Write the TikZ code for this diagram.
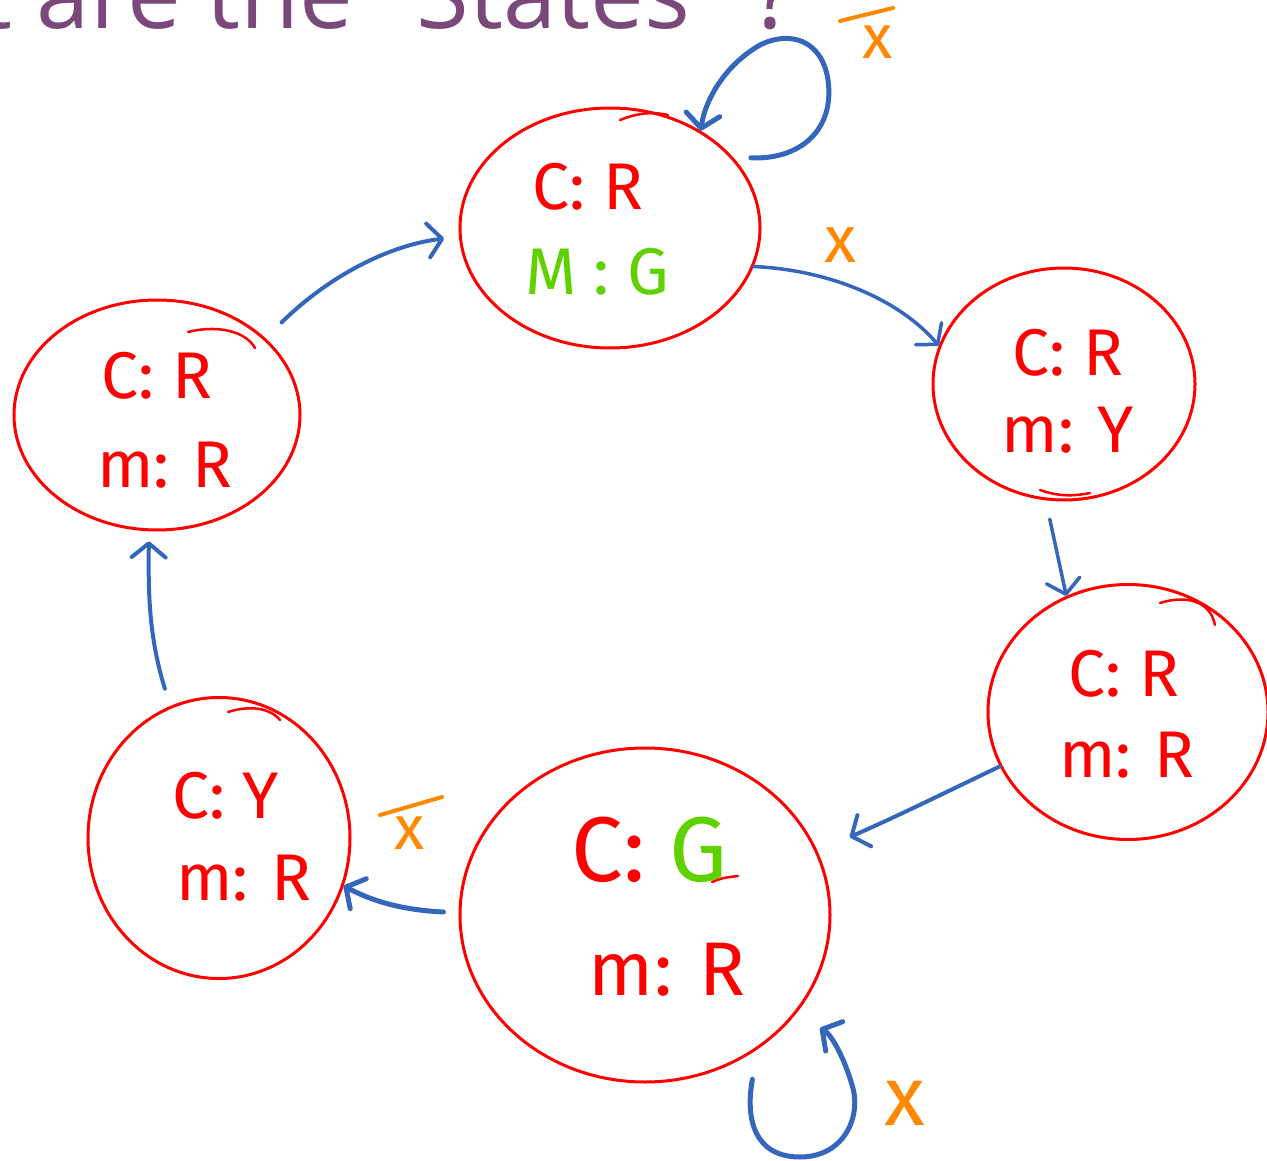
\documentclass[tikz,border=0pt]{standalone}
\usepackage{fontspec}
\setmainfont{Fira Sans}
\newfontfamily\titlefont{Open Sans}
\usetikzlibrary{shapes.geometric,arrows.meta,calc}
\definecolor{hred}{RGB}{255,0,0}
\definecolor{hgreen}{RGB}{95,208,0}
\definecolor{hblue}{RGB}{52,102,187}
\definecolor{horange}{RGB}{255,136,0}
\definecolor{htitle}{RGB}{122,72,122}
\tikzset{
  state/.style={ellipse, draw=hred, line width=3pt, inner sep=0pt},
  lbl/.style={text=hred, inner sep=0pt, font=\fontsize{66}{70}\selectfont},
  conn/.style={draw=hblue, line width=4pt, line cap=round, line join=round,
    -{Straight Barb[round,length=14pt,width=34pt]}},
  cond/.style={text=horange, inner sep=0pt, font=\fontsize{62}{66}\selectfont},
  negbar/.style={draw=horange, line width=4pt, line cap=round},
  scrib/.style={draw=hred, line width=2.5pt, line cap=round},
}
\begin{document}
\begin{tikzpicture}[x=1pt,y=-1pt]
\useasboundingbox (0,0) rectangle (1267,1161);
% title
\node[font=\titlefont\fontsize{96}{100}\selectfont, text=htitle, anchor=base west, inner sep=0pt] (title) at (-22,29) {t are the "States" ?};
% states
\node[state, minimum width=300pt, minimum height=240pt] (s1) at (610,228) {};
\node[state, minimum width=262pt, minimum height=232pt] (s2) at (1064,384) {};
\node[state, minimum width=280pt, minimum height=255pt] (s3) at (1128,712) {};
\node[state, minimum width=370pt, minimum height=334pt] (s4) at (645,915) {};
\node[state, minimum width=262pt, minimum height=281pt] (s5) at (219,838) {};
\node[state, minimum width=286pt, minimum height=230pt] (s6) at (157,415) {};
% extra strokes
\draw[scrib] (620,120) .. controls (640,112) and (655,112) .. (668,115);
\draw[scrib] (188,332) .. controls (215,325) and (245,330) .. (255,348);
\draw[scrib] (1160,603) .. controls (1185,595) and (1210,600) .. (1215,625);
\draw[scrib] (228,712) .. controls (250,705) and (270,708) .. (280,720);
\draw[scrib] (1040,490) .. controls (1060,497) and (1075,496) .. (1090,493);
\draw[scrib] (712,882) .. controls (722,878) .. (738,876);
% texts
\node[lbl] (t1a) at (588,187) {C: R};
\node[lbl, text=hgreen] (t1b) at (597,272) {M : G};
\node[lbl] (t2a) at (1068,353) {C: R};
\node[lbl] (t2b) at (1068,430) {m: Y};
\node[lbl] (t3a) at (1124,674) {C: R};
\node[lbl] (t3b) at (1127,755) {m: R};
\node[lbl, font=\fontsize{92}{96}\selectfont] (t4a) at (650,850) {C: \textcolor{hgreen}{G}};
\node[lbl, font=\fontsize{76}{80}\selectfont] (t4b) at (667,970) {m: R};
\node[lbl] (t5a) at (226,796) {C: Y};
\node[lbl] (t5b) at (244,878) {m: R};
\node[lbl] (t6a) at (157,376) {C: R};
\node[lbl] (t6b) at (165,465) {m: R};
% condition labels
\node[cond] (c1) at (878,42) {x};
\draw[negbar] (840,21) -- (893,8);
\node[cond, font=\fontsize{66}{70}\selectfont] (c2) at (840,245) {x};
\node[cond] (c3) at (410,833) {x};
\draw[negbar] (380,815) -- (442,797);
\node[cond, font=\fontsize{84}{88}\selectfont] (c4) at (905,1103) {x};
% connectors
\draw[conn, line width=5pt] ($(s1.27)+(13,-5)$) .. controls (800,160) and (835,130) .. (828,80)
   .. controls (822,40) and (790,30) .. (760,45) .. controls (725,65) and (705,100) .. (s1.47);
\draw[conn, line width=3.5pt] (s1.-15) .. controls (830,270) and (900,300) .. (s2.163);
\draw[conn, line width=3.5pt] ($(s2.-95)+(-4,18)$) .. controls (1058,555) .. (s3.118);
\draw[conn] (s3.-157) .. controls (940,795) and (900,815) .. ($(s4.21)+(33,-12)$);
\draw[conn, line width=5pt] ($(s4.180)+(-15,-3)$) .. controls (400,910) and (370,900) .. (s5.-21);
\draw[conn] ($(s5.110)+(-6,-17)$) .. controls (150,640) and (148,600) .. ($(s6.-94)+(0,10)$);
\draw[conn] ($(s6.37)+(19,-13)$) .. controls (330,275) and (390,245) .. ($(s1.184)+(-15,0)$);
\coordinate (bl) at (820,1028);
\draw[conn, line width=5pt] ($(s4.-57)+(13,19)$) .. controls (745,1120) and (755,1157) .. (800,1157)
   .. controls (845,1157) and (862,1115) .. (852,1085) .. controls (845,1060) and (832,1035) .. (bl);
\end{tikzpicture}
\end{document}
